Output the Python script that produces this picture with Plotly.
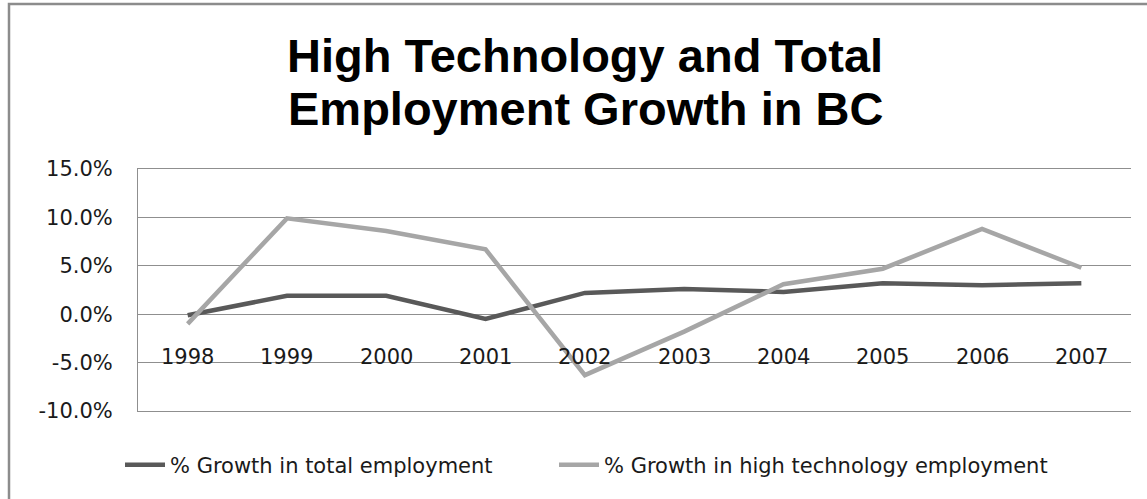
import plotly.graph_objects as go

years = ["1998", "1999", "2000", "2001", "2002", "2003", "2004", "2005", "2006", "2007"]
total_growth = [-0.1, 1.9, 1.9, -0.5, 2.2, 2.6, 2.3, 3.2, 3.0, 3.2]
hightech_growth = [-1.0, 9.9, 8.6, 6.7, -6.3, -1.8, 3.1, 4.7, 8.8, 4.8]
ytick_vals = [-10, -5, 0, 5, 10, 15]
ytick_text = ["-10.0%", "-5.0%", "0.0%", "5.0%", "10.0%", "15.0%"]
title_lines = ["High Technology and Total", "Employment Growth in BC"]

W, H = 1147, 499
L, R, T, B = 138, 16, 169, 88
pw, ph = W - L - R, H - T - B
GRID = "#8f8f8f"


def px2paper_x(px):
    return (px - L) / pw


def px2paper_y(py):
    return (H - B - py) / ph


fig = go.Figure()
fig.add_trace(go.Scatter(x=years, y=total_growth, mode="lines",
                         name="% Growth in total employment",
                         line=dict(color="#595959", width=4.5), legend="legend"))
fig.add_trace(go.Scatter(x=years, y=hightech_growth, mode="lines",
                         name="% Growth in high technology employment",
                         line=dict(color="#A6A6A6", width=4.5), legend="legend2"))

tick_font = dict(family="DejaVu Sans", size=21, color="#1a1a1a")

# category labels sit next to the 0 line, as in the original
for i, yr in enumerate(years):
    fig.add_annotation(x=i, y=0, xref="x", yref="y", text=yr, showarrow=False,
                       yanchor="middle", yshift=-43, font=tick_font)

# title (two lines, tight line spacing)
for line, py in zip(title_lines, [55, 108]):
    fig.add_annotation(x=px2paper_x(585), y=px2paper_y(py), xref="paper", yref="paper",
                       text="<b>" + line + "</b>", showarrow=False,
                       xanchor="center", yanchor="middle",
                       font=dict(family="Liberation Sans", size=47, color="black"))

# outer chart border (top & left visible)
fig.add_shape(type="rect", xref="paper", yref="paper",
              x0=px2paper_x(9), x1=px2paper_x(1160),
              y0=px2paper_y(520), y1=px2paper_y(4),
              line=dict(color="#8c8c8c", width=2.5), layer="below")

legend_common = dict(orientation="h", xanchor="left", y=px2paper_y(465), yanchor="middle",
                     font=tick_font, itemwidth=40, bgcolor="rgba(0,0,0,0)")

fig.update_layout(
    width=W, height=H,
    margin=dict(l=L, r=R, t=T, b=B),
    paper_bgcolor="white", plot_bgcolor="white",
    xaxis=dict(type="category", showticklabels=False, showgrid=False,
               zeroline=False, showline=True, mirror=True,
               linecolor=GRID, linewidth=1, ticks="",
               range=[-0.5, len(years) - 0.5]),
    yaxis=dict(range=[-10, 15], tickvals=ytick_vals, ticktext=ytick_text,
               showgrid=True, gridcolor=GRID, gridwidth=1,
               zeroline=False, showline=True, linecolor=GRID, linewidth=1,
               ticks="", ticklabelstandoff=20, tickfont=tick_font),
    legend=dict(x=px2paper_x(120), **legend_common),
    legend2=dict(x=px2paper_x(554), **legend_common),
    showlegend=True,
)

fig.write_html("out.html")
